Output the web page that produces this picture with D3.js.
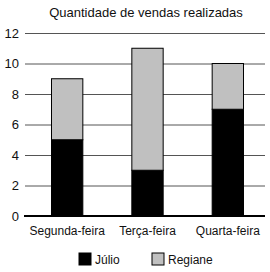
<!DOCTYPE html>
<html>
<head>
<meta charset="utf-8">
<script src="https://cdn.jsdelivr.net/npm/d3@7"></script>
<style>
  body { margin: 0; background: #fff; }
  text { font-family: "Liberation Sans", Arial, sans-serif; fill: #111; }
</style>
</head>
<body>
<svg id="chart" width="270" height="272"></svg>
<script>
// data
const days = ["Segunda-feira", "Terça-feira", "Quarta-feira"];
const julio = [5, 3, 7];
const regiane = [4, 8, 3];
const yTicks = [0, 2, 4, 6, 8, 10, 12];
const seriesNames = ["Júlio", "Regiane"];
const colors = ["#000000", "#c0c0c0"];

const svg = d3.select("#chart");

const rows = days.map((d, i) => ({ day: d, "Júlio": julio[i], "Regiane": regiane[i] }));
const stacked = d3.stack().keys(seriesNames)(rows);

const x = d3.scaleBand()
  .domain(days)
  .range([27, 268])
  .paddingInner(0.61)
  .paddingOuter(0.305);

const y = d3.scaleLinear()
  .domain([0, 12])
  .range([216, 33]);

// title
svg.append("text")
  .attr("x", 146)
  .attr("y", 17)
  .attr("text-anchor", "middle")
  .style("font-size", "13px")
  .text("Quantidade de vendas realizadas");

// gridlines + tick labels
const yAxis = d3.axisLeft(y)
  .tickValues(yTicks)
  .tickSize(-240)
  .tickPadding(6)
  .tickFormat(d3.format("d"));

const gy = svg.append("g")
  .attr("transform", "translate(25,0)")
  .call(yAxis);
gy.select(".domain").remove();
gy.selectAll(".tick line").attr("stroke", "#555").attr("stroke-width", 1);
gy.selectAll(".tick text")
  .style("font-size", "13px")
  .style("font-family", "Liberation Sans, Arial, sans-serif")
  .attr("fill", "#111");

// bars
svg.append("g")
  .selectAll("g")
  .data(stacked)
  .join("g")
  .attr("fill", (d, i) => colors[i])
  .selectAll("rect")
  .data(d => d)
  .join("rect")
  .attr("x", d => x(d.data.day))
  .attr("y", d => y(d[1]))
  .attr("width", x.bandwidth())
  .attr("height", d => y(d[0]) - y(d[1]))
  .attr("stroke", "#000")
  .attr("stroke-width", 1);

// baseline
svg.append("line")
  .attr("x1", 24).attr("x2", 265)
  .attr("y1", y(0)).attr("y2", y(0))
  .attr("stroke", "#000")
  .attr("stroke-width", 2);

// category labels
const xAxis = d3.axisBottom(x).tickSize(0).tickPadding(10);
const gx = svg.append("g")
  .attr("transform", `translate(0,${y(0)})`)
  .call(xAxis);
gx.select(".domain").remove();
gx.selectAll(".tick text")
  .style("font-size", "12px")
  .style("font-family", "Liberation Sans, Arial, sans-serif")
  .attr("fill", "#111");

// legend
const legendX = [79, 152];
const legend = svg.append("g")
  .selectAll("g")
  .data(seriesNames)
  .join("g")
  .attr("transform", (d, i) => `translate(${legendX[i]},253)`);

legend.append("rect")
  .attr("width", 12)
  .attr("height", 12)
  .attr("fill", (d, i) => colors[i])
  .attr("stroke", "#000")
  .attr("stroke-width", 1);

legend.append("text")
  .attr("x", (d, i) => i === 0 ? 16 : 16)
  .attr("y", 11)
  .style("font-size", "12px")
  .text(d => d);
</script>
</body>
</html>
